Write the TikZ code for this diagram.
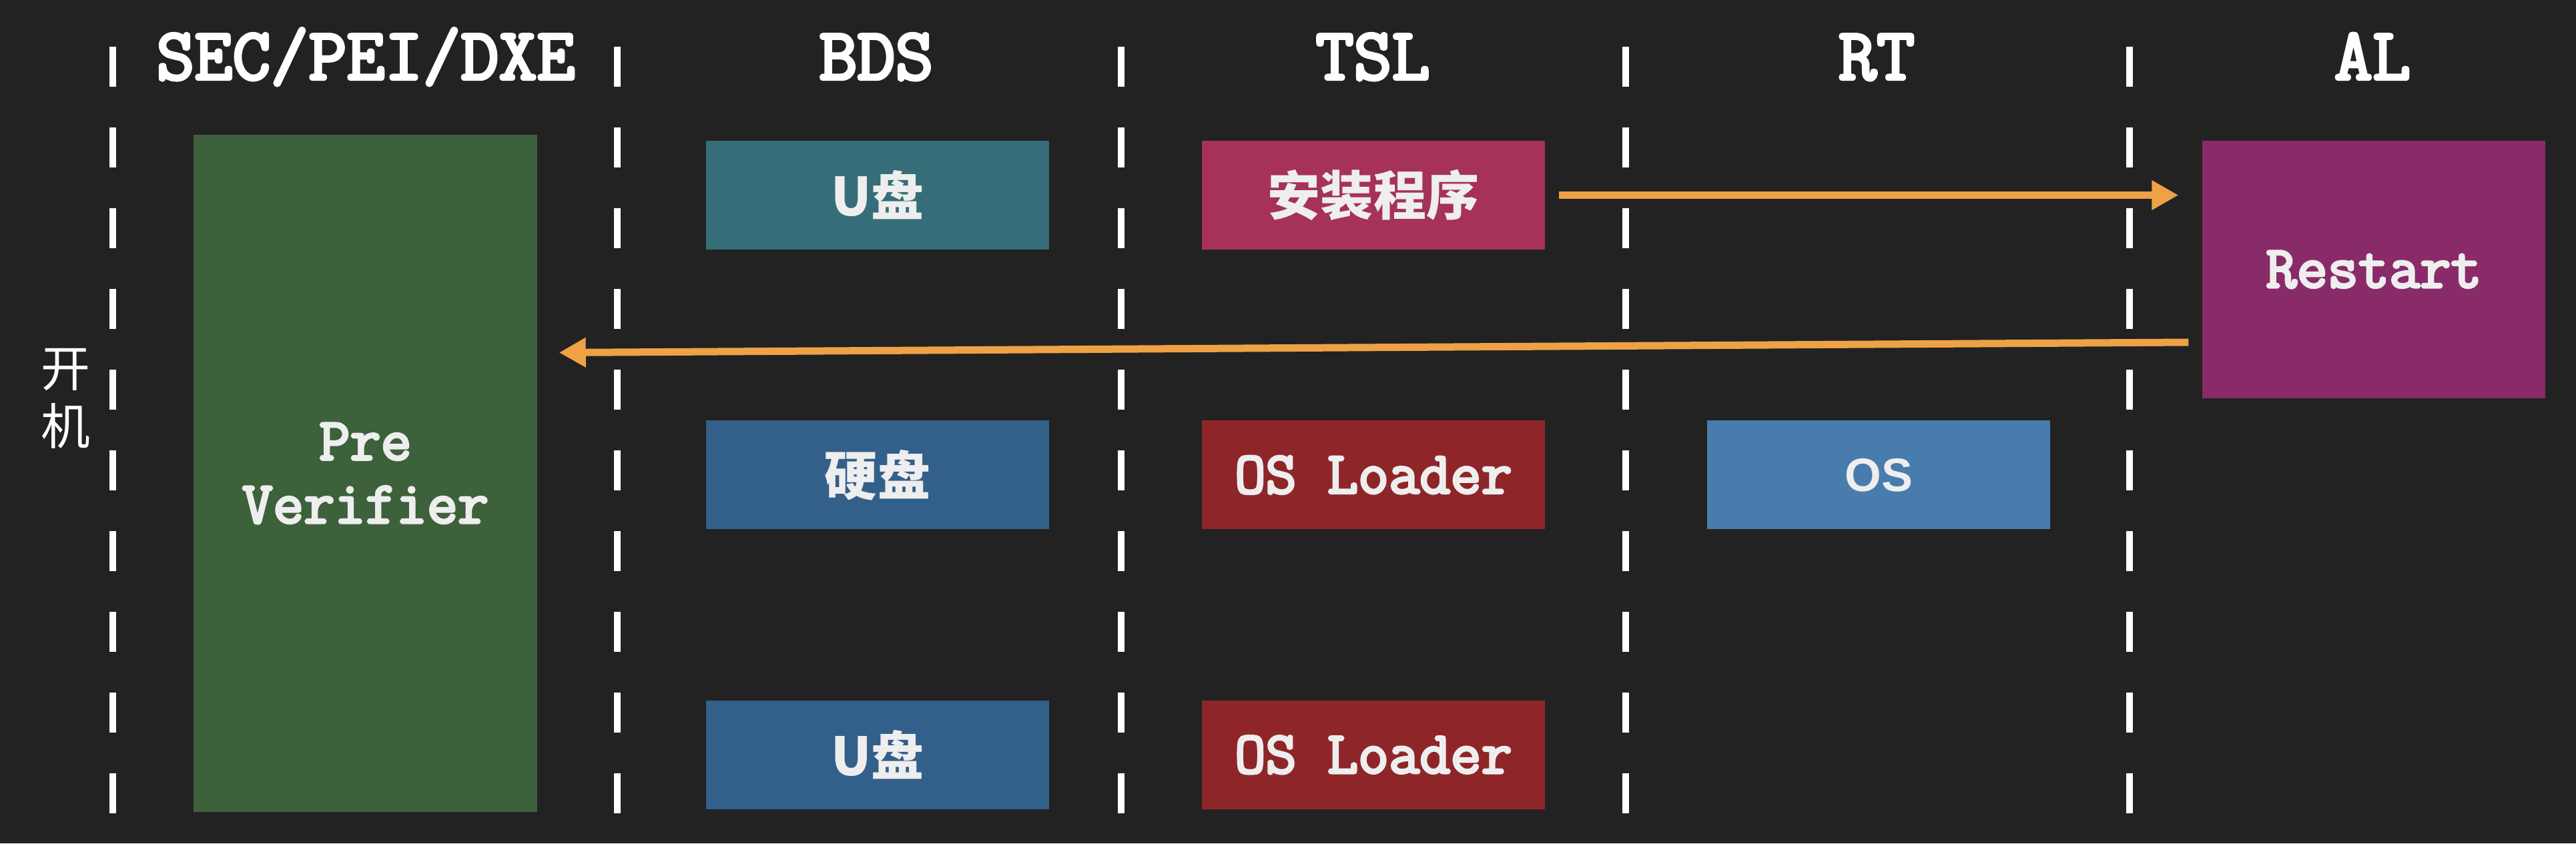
\documentclass[tikz,border=0pt]{standalone}
\usepackage{fontspec}
\newfontfamily\slabmono{Latin Modern Mono}[FakeBold=4]
\newfontfamily\cjk{Noto Sans CJK SC}
\newfontfamily\labelsans{Liberation Sans}
\usetikzlibrary{arrows.meta, positioning, calc}

\definecolor{bgdark}{HTML}{222222}
\definecolor{labelwhite}{HTML}{EEEEEE}
\definecolor{verifgreen}{HTML}{3D613B}
\definecolor{usbteal}{HTML}{356E78}
\definecolor{diskblue}{HTML}{335F8B}
\definecolor{installred}{HTML}{A63259}
\definecolor{loaderred}{HTML}{8E2629}
\definecolor{osblue}{HTML}{477CAD}
\definecolor{restartpurple}{HTML}{892B68}
\definecolor{floworange}{HTML}{EEA145}

\begin{document}
\begin{tikzpicture}[
    % rows 2.55cm apart, RT column 2.42cm right of TSL
    node distance=2.55cm and 2.42cm,
    % lane separators
    lane/.style={draw=white, line width=1mm, dash pattern=on 6mm off 6.1mm},
    % stage boxes
    stage/.style={
        minimum width=5.14cm,
        minimum height=1.63cm,
        inner sep=0pt,
        align=center,
        text=labelwhite
    },
    codetext/.style={font=\fontsize{25.5}{27}\selectfont\slabmono},
    cjktext/.style={font=\fontsize{22.5}{27}\selectfont\cjk\bfseries},
    sanstext/.style={font=\fontsize{20}{24}\selectfont\labelsans\bfseries},
    head/.style={font=\fontsize{31.5}{34}\selectfont\slabmono, text=white, anchor=base},
    flow/.style={draw=floworange, line width=1.1mm, -{Triangle[length=4mm, width=4.2mm]}}
]

    % background
    \fill[bgdark] (0,0) rectangle (38.6,-12.64);

    % lanes
    \foreach \x in {1.69, 9.25, 16.80, 24.36, 31.91}
        \draw[lane] (\x,-0.70) -- (\x,-12.19);

    % phase titles
    \node[head] (h_sec) at (5.48,-1.19) {SEC/PEI/DXE};
    \node[head] (h_bds) at (13.13,-1.19) {BDS};
    \node[head] (h_tsl) at (20.57,-1.19) {TSL};
    \node[head] (h_rt) at (28.12,-1.19) {RT};
    \node[head] (h_al) at (35.55,-1.19) {AL};

    % power on
    \node[font=\fontsize{21}{24.7}\selectfont\cjk, text=white, align=center] (boot) at (0.98,-5.97) {开\\机};

    % SEC/PEI/DXE
    \node[stage, codetext, fill=verifgreen, minimum width=5.15cm, minimum height=10.15cm] (verifier) at (5.475,-7.095) {Pre\\Verifier};

    % BDS
    \node[stage, cjktext, fill=usbteal] (usb_top) at (13.15,-2.925) {U盘};
    \node[stage, cjktext, fill=diskblue, below=of usb_top] (disk) {硬盘};
    \node[stage, cjktext, fill=diskblue, below=of disk] (usb_low) {U盘};

    % TSL
    \node[stage, cjktext, fill=installred] (install) at (20.58,-2.925) {安装程序};
    \node[stage, codetext, fill=loaderred, below=of install] (loader_disk) {OS Loader};
    \node[stage, codetext, fill=loaderred, below=of loader_disk] (loader_usb) {OS Loader};

    % RT
    \node[stage, sanstext, fill=osblue, right=of loader_disk] (os) {OS};

    % AL
    \node[stage, codetext, fill=restartpurple, minimum height=3.86cm] (restart) at (35.57,-4.04) {Restart};

    % install -> restart -> back to power on
    \draw[flow, shorten <=2mm, shorten >=3.5mm] (install.east) -- (install.east -| restart.west);
    \coordinate (back_from) at ($(restart.west)+(-0.2,-1.09)$);
    \coordinate (back_to) at ($(verifier.east)+(0.32,1.81)$);
    \draw[flow] (back_from) -- (back_to);

\end{tikzpicture}
\end{document}
